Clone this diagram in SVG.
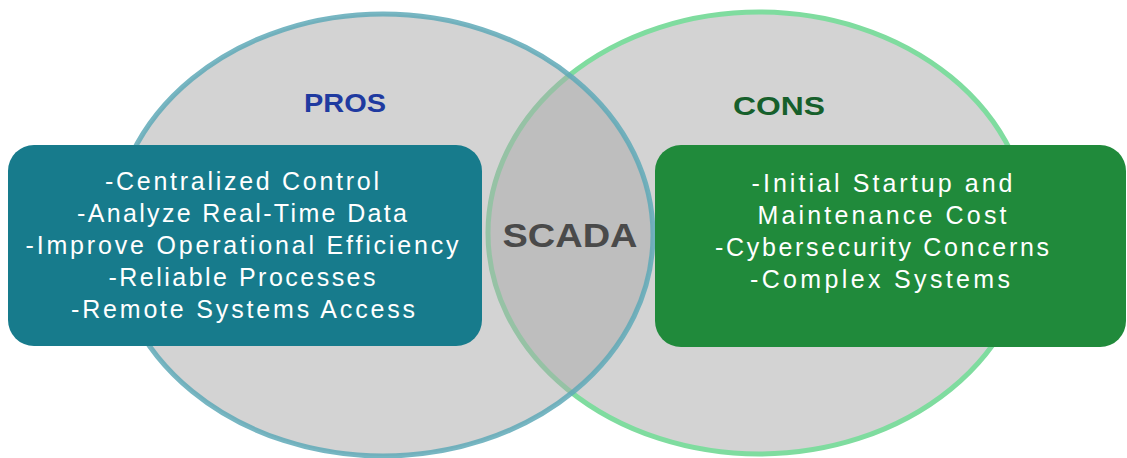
<svg xmlns="http://www.w3.org/2000/svg" width="1127" height="458" viewBox="0 0 1127 458">
  <style>
    .circle { fill: #ababab; fill-opacity: 0.52; stroke-width: 5; }
    .head { font-family: "Liberation Sans", Arial, sans-serif; font-weight: bold; font-size: 25px; text-anchor: middle; }
    .item { font-family: "Liberation Sans", Arial, sans-serif; font-size: 25px; fill: #ffffff; text-anchor: middle; }
    .box { stroke: none; }
  </style>
  <rect width="1127" height="458" fill="#ffffff"/>

  <!-- Venn circles (cons drawn first so the pros outline sits on top in the overlap) -->
  <g id="cons-circle">
    <ellipse class="circle" cx="759" cy="233" rx="271" ry="221" stroke="#7fdc9f"/>
    <text class="head" x="779" y="115" fill="#165f2b" textLength="92" lengthAdjust="spacingAndGlyphs">CONS</text>
  </g>
  <g id="pros-circle">
    <ellipse class="circle" cx="383" cy="235" rx="270" ry="221" stroke="#5fa9b7" stroke-opacity="0.85"/>
    <text class="head" x="345" y="112" fill="#1f3aa0" textLength="82" lengthAdjust="spacingAndGlyphs">PROS</text>
  </g>

  <!-- Overlap label -->
  <g id="scada">
    <text x="570" y="247" font-family="'Liberation Sans', Arial, sans-serif" font-weight="bold" font-size="33" fill="#4a4a4a" text-anchor="middle" textLength="135" lengthAdjust="spacingAndGlyphs">SCADA</text>
  </g>

  <!-- Pros list -->
  <g id="pros-box">
    <rect class="box" x="8" y="145" width="474" height="201" rx="26" fill="#177b8c"/>
    <text class="item" x="242" y="190" textLength="274">-Centralized Control</text>
    <text class="item" x="242" y="222" textLength="330">-Analyze Real-Time Data</text>
    <text class="item" x="242" y="254" textLength="433">-Improve Operational Efficiency</text>
    <text class="item" x="242" y="286" textLength="267">-Reliable Processes</text>
    <text class="item" x="243" y="318" textLength="344">-Remote Systems Access</text>
  </g>

  <!-- Cons list -->
  <g id="cons-box">
    <rect class="box" x="655" y="145" width="471" height="202" rx="26" fill="#208a3b"/>
    <text class="item" x="882" y="192" textLength="261">-Initial Startup and</text>
    <text class="item" x="882" y="224" textLength="249">Maintenance Cost</text>
    <text class="item" x="882" y="256" textLength="334">-Cybersecurity Concerns</text>
    <text class="item" x="880" y="288" textLength="260">-Complex Systems</text>
  </g>

  <!-- no connectors in this diagram -->
  <g id="connectors"/>
</svg>
